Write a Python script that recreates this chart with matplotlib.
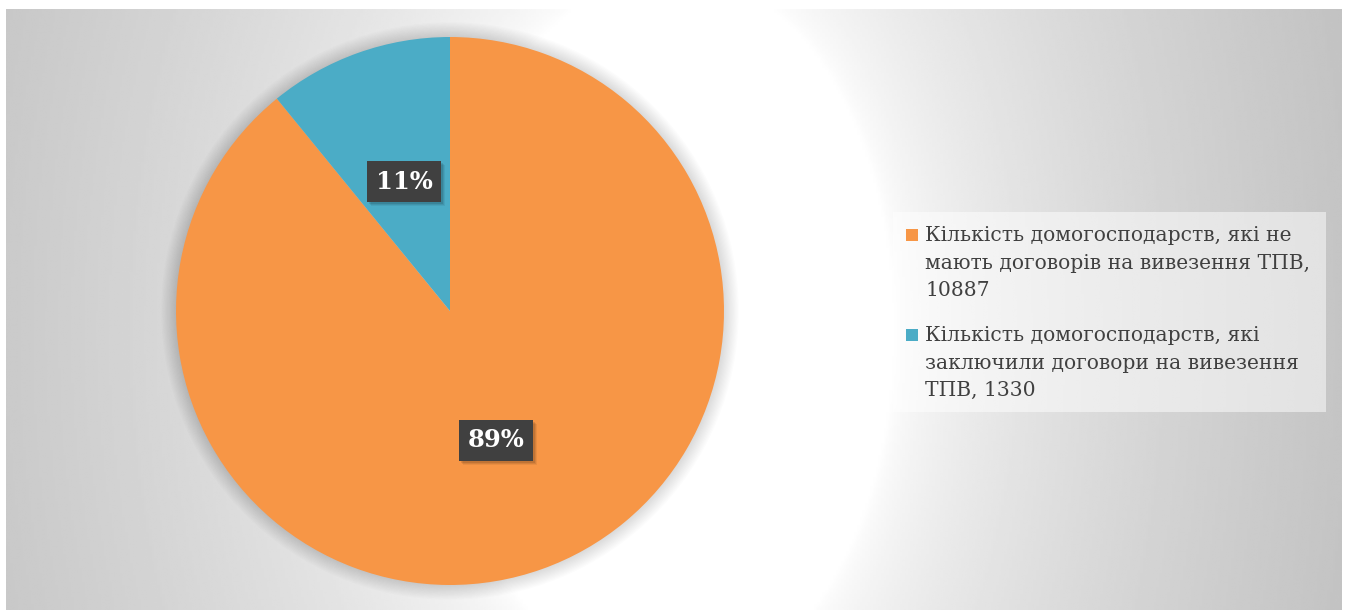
import textwrap
import numpy as np
import matplotlib.pyplot as plt
from matplotlib.patches import Rectangle, Circle

# data
categories = [
    'Кількість домогосподарств, які не мають договорів на вивезення ТПВ',
    'Кількість домогосподарств, які заключили договори на вивезення ТПВ',
]
values = [10887, 1330]
colors = ['#F79646', '#4BACC6']

W, H = 1347, 610
fig = plt.figure(figsize=(W / 100, H / 100), dpi=100)
fig.patch.set_facecolor('white')

# background with radial gradient (pixel coordinates, y downwards)
bg = fig.add_axes([0, 0, 1, 1])
bg.set_xlim(0, W)
bg.set_ylim(H, 0)
bg.axis('off')
x0, x1, y0, y1 = 6, 1342, 9, 610
xx, yy = np.meshgrid(np.linspace(x0, x1, 500), np.linspace(y0, y1, 250))
dx = np.where(xx < 680, (xx - 680) * 0.88, xx - 680)
d = np.hypot(dx, (yy - 330) * 0.6)
t = np.clip((d - 215) / 470, 0, 1) ** 0.6
shade = 1.0 - t * (1.0 - 0.765)
bg.imshow(shade, cmap='gray', vmin=0, vmax=1, extent=(x0, x1, y1, y0),
          aspect='auto', interpolation='bilinear')

# pie
cx, cy, r = 450, 311, 274
ax = fig.add_axes([(cx - r) / W, (H - cy - r) / H, 2 * r / W, 2 * r / H])
ax.set_xlim(-1, 1)
ax.set_ylim(-1, 1)
ax.axis('off')

# soft glow around the pie
for k in range(12):
    ax.add_patch(Circle((0, 0), 1.0 + 0.0045 * (k + 1), facecolor='black',
                        edgecolor='none', alpha=0.01, zorder=0,
                        clip_on=False))

wedges, texts, autotexts = ax.pie(
    values, colors=colors, startangle=90, counterclock=False,
    autopct='%1.0f%%', pctdistance=0.5,
    wedgeprops=dict(linewidth=0),
    textprops=dict(color='white', fontsize=17.5, fontweight='bold',
                   family='DejaVu Serif'))
ax.set_xlim(-1, 1)
ax.set_ylim(-1, 1)

for at in autotexts:
    at.set_bbox(dict(boxstyle='square,pad=0.35', facecolor='#404040', edgecolor='none'))

# shadows behind the percent boxes
fig.canvas.draw()
for at in autotexts:
    bb = at.get_bbox_patch().get_window_extent()
    for k, a in enumerate([0.10, 0.08, 0.06]):
        off = 2 + k
        ax.add_patch(Rectangle((bb.x0 + off, bb.y0 - off), bb.width, bb.height,
                               transform=None, facecolor='black', alpha=a,
                               edgecolor='none', zorder=at.get_zorder() - 0.5))

# legend (drawn in pixel coordinates of the background axes)
bg.add_patch(Rectangle((893, 212), 433, 200, facecolor='white', alpha=0.5,
                       edgecolor='none', zorder=3))
labels = [textwrap.fill(f'{c}, {v}', width=33) for c, v in zip(categories, values)]
entry_tops = [229, 329]
for lab, col, ytop in zip(labels, colors, entry_tops):
    bg.add_patch(Rectangle((906, ytop), 12, 12, facecolor=col,
                           edgecolor='none', zorder=4))
    bg.text(925, ytop - 3, lab, ha='left', va='top', fontsize=14.6,
            family='DejaVu Serif', color='#404040', linespacing=1.58, zorder=4)

fig.savefig('out.png', dpi=100, facecolor='white')
